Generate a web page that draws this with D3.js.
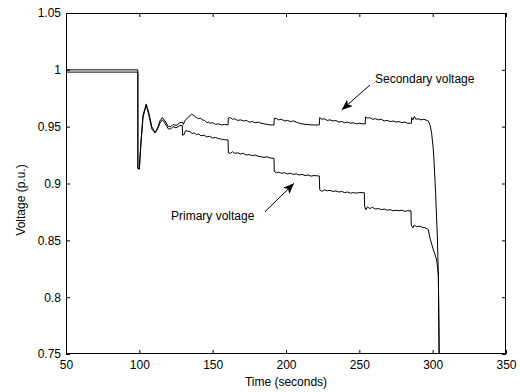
<!DOCTYPE html>
<html><head><meta charset="utf-8">
<script src="https://cdn.jsdelivr.net/npm/d3@7"></script>
<style>body{margin:0;background:#fff;} svg{display:block;} text{font-family:"Liberation Sans",Arial,sans-serif;font-size:12px;fill:#000;}</style>
</head><body><svg id="c" width="520" height="392"></svg>
<script>
const xTicks = [50,100,150,200,250,300,350];
const yTicks = [0.75,0.8,0.85,0.9,0.95,1,1.05];
const yTickLabels = ["0.75","0.8","0.85","0.9","0.95","1","1.05"];

const secondary = [[50,1.000],[99,1.000],[99,0.9135],[100,0.9127],[101,0.935],[102.5,0.960],[104.7,0.970],[106.5,0.962],[108.5,0.950],[110.7,0.9447],[112.5,0.949],[114,0.955],[115.7,0.958],[117.5,0.955],[119.8,0.950],[121.5,0.950],[123,0.952],[125,0.951],[127.7,0.9535],[129.5,0.954],[130,0.952],[131,0.955],[133,0.958],[135.7,0.961],[137.5,0.9595],[139,0.958],[140.5,0.957],[141.5,0.9575],[143,0.956],[144.5,0.9555],[146,0.9535],[147,0.954],[148.5,0.953],[150,0.9535],[152,0.952],[154,0.9525],[156,0.9515],[158,0.952],[160.5,0.9515],[160.7,0.9575],[162,0.958],[163.5,0.9565],[165,0.957],[167,0.9555],[169,0.956],[171,0.955],[173,0.9555],[175,0.954],[177,0.9545],[179,0.9535],[181,0.954],[183,0.953],[185,0.9525],[187,0.952],[189,0.9515],[191.8,0.9515],[192,0.9575],[193.5,0.957],[195,0.956],[197,0.9565],[199,0.955],[201,0.9555],[203,0.9545],[205,0.955],[207,0.954],[209,0.953],[211,0.9525],[213,0.952],[215,0.952],[217,0.9515],[219,0.9515],[222.7,0.9515],[223,0.958],[224.5,0.9565],[226,0.957],[228,0.9555],[230,0.956],[232,0.955],[234,0.9555],[236,0.954],[238,0.9545],[240,0.9535],[242,0.954],[244,0.953],[246,0.9535],[248,0.9525],[250,0.953],[252,0.9525],[254,0.9525],[254.2,0.9585],[255.5,0.9575],[257,0.958],[259,0.9565],[261,0.957],[263,0.956],[265,0.9565],[267,0.955],[269,0.9555],[271,0.9545],[273,0.955],[275,0.954],[277,0.9545],[279,0.9535],[281,0.954],[283,0.953],[285.5,0.953],[285.7,0.958],[286.5,0.956],[287.5,0.959],[288.5,0.9565],[290,0.957],[292,0.956],[294,0.9565],[296,0.9555],[297,0.955],[298.3,0.951],[299.3,0.9442],[300.3,0.932],[300.9,0.9207],[302,0.8914],[303.2,0.8532],[303.9,0.818],[304.5,0.74]];

const primary = [[50,0.998],[99,0.998],[99,0.913],[100,0.9127],[101,0.933],[102.5,0.958],[104.7,0.969],[106.5,0.960],[108.5,0.948],[110.7,0.9445],[112.5,0.948],[114,0.953],[115.7,0.956],[117.5,0.953],[119.8,0.948],[121.5,0.948],[123,0.950],[125,0.949],[127.7,0.951],[129.3,0.951],[129.5,0.9425],[130.5,0.943],[131.5,0.9465],[133,0.946],[134.5,0.9456],[136,0.944],[137.5,0.9445],[139,0.943],[140.5,0.9435],[142,0.942],[144,0.9425],[146,0.941],[148,0.9415],[150,0.940],[152,0.9405],[154,0.9395],[156,0.939],[158,0.9385],[160.5,0.9383],[160.7,0.927],[162,0.9265],[163.5,0.928],[165,0.9265],[167,0.927],[169,0.926],[171,0.9265],[173,0.925],[175,0.9255],[177,0.9245],[179,0.925],[181,0.924],[183,0.9235],[185,0.923],[187,0.9235],[189,0.9225],[191.8,0.9222],[192,0.9105],[193.5,0.9095],[195,0.910],[197,0.909],[199,0.9095],[201,0.9085],[203,0.909],[205,0.908],[207,0.9085],[209,0.9075],[211,0.908],[213,0.907],[215,0.9075],[217,0.9065],[219,0.907],[222.7,0.9066],[223,0.8945],[224.5,0.893],[226,0.8945],[228,0.8935],[230,0.894],[232,0.893],[234,0.8935],[236,0.8925],[238,0.893],[240,0.892],[242,0.8925],[244,0.8915],[246,0.892],[248,0.8915],[250,0.892],[253.4,0.8919],[253.6,0.880],[254.5,0.877],[255.5,0.8795],[257,0.878],[259,0.879],[261,0.8775],[263,0.878],[265,0.877],[267,0.8775],[269,0.8765],[271,0.877],[273,0.876],[275,0.8765],[277,0.876],[279,0.8765],[281,0.8755],[283,0.876],[285.2,0.876],[285.4,0.8635],[286.5,0.861],[287.5,0.8635],[289,0.862],[291,0.8625],[293,0.8615],[295,0.861],[297,0.8595],[298.2,0.8518],[299.5,0.846],[300.5,0.8415],[301.5,0.838],[302.7,0.8327],[303.5,0.825],[303.9,0.818],[304.5,0.74]];

const annotations = [
  {text:"Secondary voltage", tx:375, ty:83, from:[257.3, 0.9867], to:[238, 0.9647]},
  {text:"Primary voltage", tx:171, ty:220, from:[185.7, 0.8752], to:[205.5, 0.9002]}
];

const svg = d3.select("#c");
const L=66, R=506, T=13, B=354;
const x = d3.scaleLinear().domain([50,350]).range([L,R]);
const y = d3.scaleLinear().domain([0.75,1.05]).range([B,T]);

svg.append("defs").append("clipPath").attr("id","clip")
  .append("rect").attr("x",L).attr("y",T).attr("width",R-L).attr("height",B-T);
svg.select("defs").append("marker").attr("id","arr").attr("viewBox","0 0 10 10")
  .attr("refX",10).attr("refY",5).attr("markerWidth",11).attr("markerHeight",11)
  .attr("markerUnits","userSpaceOnUse").attr("orient","auto")
  .append("path").attr("d","M0,1 L10,5 L0,9 L2.5,5 Z").attr("fill","#000");

const line = d3.line().x(d=>x(d[0])).y(d=>y(d[1]));
const g = svg.append("g").attr("clip-path","url(#clip)");
[secondary, primary].forEach(s=>{
  g.append("path").datum(s).attr("d",line).attr("fill","none").attr("stroke","#000").attr("stroke-width",1);
});

// axes
const tl = 4;
svg.append("g").attr("transform",`translate(0,${B})`)
  .call(d3.axisBottom(x).tickValues(xTicks).tickSize(-tl).tickPadding(6).tickFormat(d3.format("d")))
  .call(a=>a.select(".domain").remove());
svg.append("g").attr("transform",`translate(0,${T})`)
  .call(d3.axisTop(x).tickValues(xTicks).tickSize(-tl).tickFormat(""))
  .call(a=>a.select(".domain").remove());
svg.append("g").attr("transform",`translate(${L},0)`)
  .call(d3.axisLeft(y).tickValues(yTicks).tickSize(-tl).tickPadding(5).tickFormat((d,i)=>yTickLabels[i]))
  .call(a=>a.select(".domain").remove());
svg.append("g").attr("transform",`translate(${R},0)`)
  .call(d3.axisRight(y).tickValues(yTicks).tickSize(-tl).tickFormat(""))
  .call(a=>a.select(".domain").remove());
svg.selectAll(".tick line").attr("stroke","#000");
svg.selectAll(".tick text").style("font-size","12px").attr("fill","#000");
svg.selectAll("g text").attr("font-family",null);

svg.append("rect").attr("x",L+0.5).attr("y",T+0.5).attr("width",R-L-1).attr("height",B-T-1)
  .attr("fill","none").attr("stroke","#000").attr("stroke-width",1);

svg.append("text").attr("x",(L+R)/2).attr("y",386).attr("text-anchor","middle").text("Time (seconds)");
svg.append("text").attr("transform","translate(25,200) rotate(-90)").attr("text-anchor","middle").text("Voltage (p.u.)");

annotations.forEach(a=>{
  svg.append("text").attr("x",a.tx).attr("y",a.ty).text(a.text);
  svg.append("line").attr("x1",x(a.from[0])).attr("y1",y(a.from[1])).attr("x2",x(a.to[0])).attr("y2",y(a.to[1]))
    .attr("stroke","#000").attr("stroke-width",1).attr("marker-end","url(#arr)");
});
</script></body></html>
